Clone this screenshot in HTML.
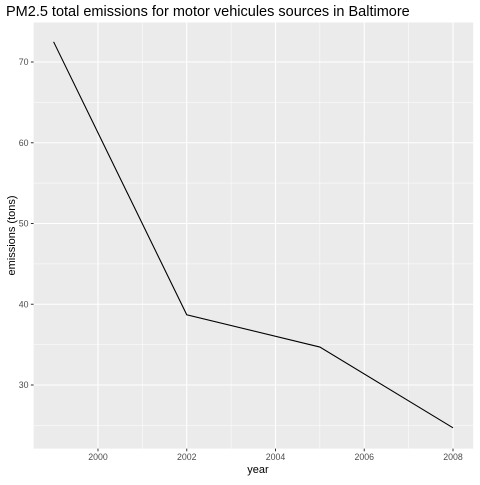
<!DOCTYPE html>
<html><head><meta charset="utf-8"><style>
body{margin:0;background:#fff;font-family:"Liberation Sans",Arial,sans-serif}
</style></head><body>
<svg id="chart" width="480" height="480" xmlns="http://www.w3.org/2000/svg">
<text x="6" y="16" font-size="14.5" fill="#000">PM2.5 total emissions for motor vehicules sources in Baltimore</text>
<rect x="33.6" y="22.5" width="439.6" height="426.1" fill="#ebebeb"/>
<g id="grid"></g>
<g id="ticks"></g>
<path id="line" fill="none" stroke="#000" stroke-width="1.1"/>
<text x="258" y="473" font-size="11" text-anchor="middle" fill="#000">year</text>
<text transform="translate(15,235.5) rotate(-90)" font-size="11" text-anchor="middle" fill="#000">emissions (tons)</text>
</svg>
<script>
const years=[1999,2002,2005,2008];
const emissions=[72.5,38.7,34.7,24.7];
const xTicks=[2000,2002,2004,2006,2008];
const yTicks=[30,40,50,60,70];
const x=v=>53.6+(v-1999)*(453-53.6)/9;
const y=v=>385-(v-30)*8.075;
const ns="http://www.w3.org/2000/svg";
const grid=document.getElementById('grid'),ticks=document.getElementById('ticks');
function ln(p,x1,y1,x2,y2,c,w){const l=document.createElementNS(ns,'line');l.setAttribute('x1',x1);l.setAttribute('y1',y1);l.setAttribute('x2',x2);l.setAttribute('y2',y2);l.setAttribute('stroke',c);l.setAttribute('stroke-width',w);p.appendChild(l);return l;}
function tx(p,xx,yy,s,a){const t=document.createElementNS(ns,'text');t.setAttribute('x',xx);t.setAttribute('y',yy);t.setAttribute('font-size','8.8');t.setAttribute('fill','#4d4d4d');t.setAttribute('text-anchor',a);t.textContent=s;p.appendChild(t);return t;}
for(let i=0;i<xTicks.length;i++){
 if(i>0){const m=ln(grid,x((xTicks[i]+xTicks[i-1])/2),22.5,x((xTicks[i]+xTicks[i-1])/2),448.6,'#fff',0.5);
 
 }
}
for(let i=0;i<yTicks.length;i++){
 if(i>0){const m=ln(grid,33.6,y((yTicks[i]+yTicks[i-1])/2),473.2,y((yTicks[i]+yTicks[i-1])/2),'#fff',0.5);
 
 }
}
[25,75].forEach(v=>{const yy=y(v);if(yy>22.5&&yy<448.6){const m=ln(grid,33.6,yy,473.2,yy,'#fff',0.5);
 
 }});
xTicks.forEach(v=>{const g=ln(grid,x(v),22.5,x(v),448.6,'#fff',1.1);
 
 
 ln(ticks,x(v),448.6,x(v),451.3,'#333',1);
 const t=tx(ticks,x(v),460,String(v),'middle');
 
 });
yTicks.forEach(v=>{const g=ln(grid,33.6,y(v),473.2,y(v),'#fff',1.1);
 
 
 ln(ticks,30.9,y(v),33.6,y(v),'#333',1);
 const t=tx(ticks,28.5,y(v)+3,String(v),'end');
 
 });
document.getElementById('line').setAttribute('d',years.map((yr,i)=>(i?'L':'M')+x(yr)+','+y(emissions[i])).join(''));
</script>
</body></html>
